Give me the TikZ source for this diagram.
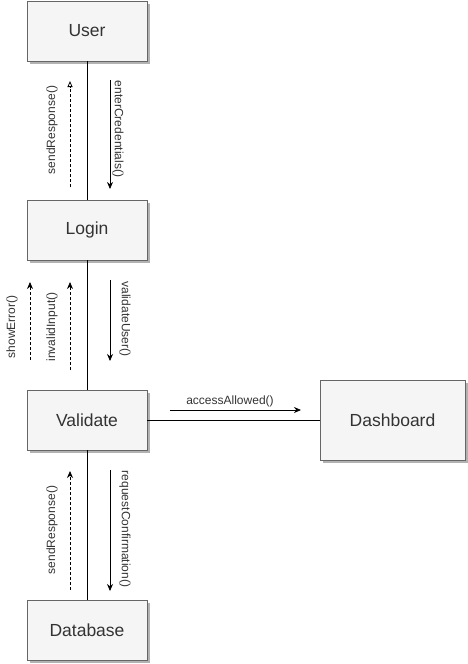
\documentclass[tikz,border=0pt]{standalone}
\usepackage{fontspec}
\setmainfont{Liberation Sans}
\usetikzlibrary{arrows.meta,shadows}
\definecolor{boxfill}{HTML}{F5F5F5}
\definecolor{boxdraw}{HTML}{666666}
\definecolor{txt}{HTML}{333333}
\begin{document}
\begin{tikzpicture}[x=1pt,y=-1pt,
  box/.style={draw=boxdraw,fill=boxfill,line width=0.8pt,minimum width=120pt,minimum height=60pt,
    inner sep=0pt,font=\fontsize{17.5}{20}\selectfont,text=txt,
    drop shadow={shadow xshift=3pt,shadow yshift=-3pt,fill=black!30,opacity=1}},
  life/.style={line width=0.8pt},
  msg/.style={line width=0.8pt,-{Stealth[length=7pt,width=6pt]}},
  ret/.style={line width=0.8pt,dashed,dash pattern=on 3pt off 2pt,-{Stealth[length=7pt,width=6pt]}},
  lbl/.style={font=\fontsize{12}{14}\selectfont,inner sep=0pt,text=txt}]
\useasboundingbox (0,0) rectangle (468,664);
\node[box] (user) at (87,31) {User};
\node[box] (login) at (87,230) {Login};
\node[box] (validate) at (87,420) {Validate};
\node[box] (db) at (87,630) {Database};
\node[box,minimum width=145pt,minimum height=80pt] (dash) at (392.5,420) {Dashboard};
\draw[life] (user) -- (login);
\draw[life] (login) -- (validate);
\draw[life] (validate) -- (db);
\draw[life] (validate) -- (dash);
% User-Login
\coordinate (a1s) at (110,80); \coordinate (a1e) at (110,189);
\draw[msg] (a1s) -- (a1e);
\node[lbl,rotate=-90] (l1) at (118,129) {enterCredentials()};
\coordinate (a2s) at (70,187); \coordinate (a2e) at (70,81);
\draw[ret,-{Triangle[open,length=6pt,width=5pt]}] (a2s) -- (a2e);
\node[lbl,rotate=90] (l2) at (52,130) {sendResponse()};
% Login-Validate
\coordinate (a3s) at (110,280); \coordinate (a3e) at (110,361);
\draw[msg] (a3s) -- (a3e);
\node[lbl,rotate=-90] (l3) at (125,319) {validateUser()};
\coordinate (a4s) at (70,370); \coordinate (a4e) at (70,282);
\draw[ret] (a4s) -- (a4e);
\node[lbl,rotate=90] (l4) at (52,327) {invalidInput()};
\coordinate (a5s) at (30,360); \coordinate (a5e) at (30,282);
\draw[ret] (a5s) -- (a5e);
\node[lbl,rotate=90] (l5) at (12,327) {showError()};
% Validate-Database
\coordinate (a6s) at (110,470); \coordinate (a6e) at (110,591);
\draw[msg] (a6s) -- (a6e);
\node[lbl,rotate=-90] (l6) at (125,529) {requestConfirmation()};
\coordinate (a7s) at (70,590); \coordinate (a7e) at (70,471);
\draw[ret] (a7s) -- (a7e);
\node[lbl,rotate=90] (l7) at (52,530) {sendResponse()};
% Validate-Dashboard
\coordinate (a8s) at (170,410); \coordinate (a8e) at (301,410);
\draw[msg] (a8s) -- (a8e);
\node[lbl] (l8) at (230,401) {accessAllowed()};
\end{tikzpicture}
\end{document}
